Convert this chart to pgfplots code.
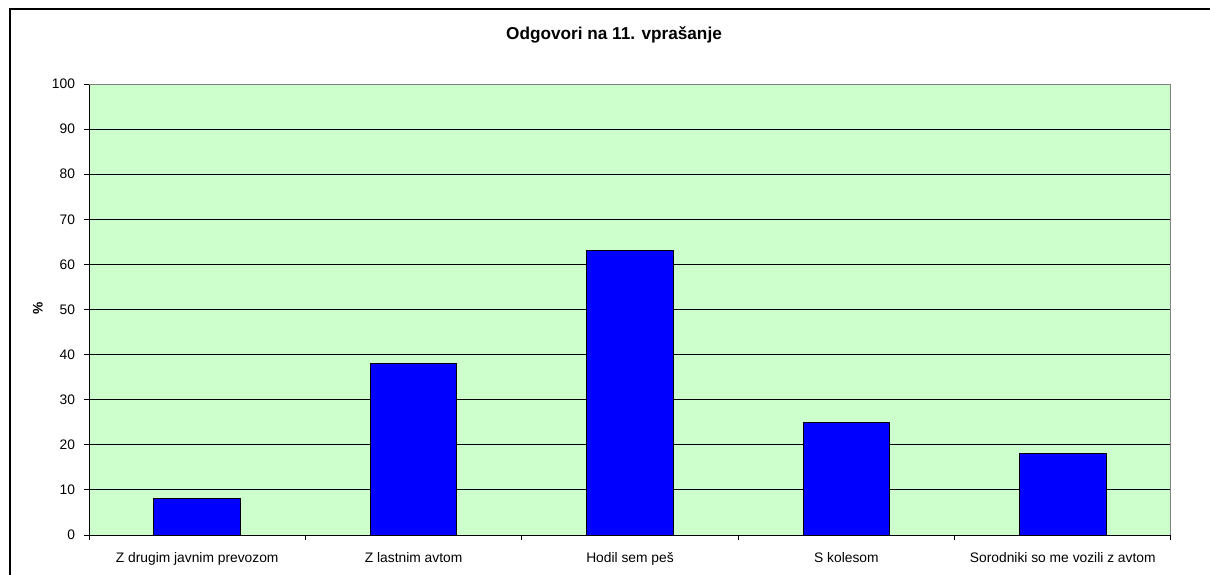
\documentclass[border=0pt]{standalone}
\usepackage{pgfplots}
\pgfplotsset{compat=1.18}
\usepackage{fontspec}
\setmainfont{Liberation Sans}
\definecolor{bgg}{RGB}{204,255,204}
\begin{document}
\begin{tikzpicture}[x=1pt,y=1pt]
\useasboundingbox (0,0) rectangle (605,287);
\draw[line width=1.2pt] (5,-10) -- (5,282.5) -- (620,282.5);
\node[font=\fontsize{8.6}{10}\selectfont\bfseries] at (307,269.5) {Odgovori na 11. vprašanje};
\node[font=\fontsize{6.9}{8}\selectfont\bfseries, rotate=90] at (19,133) {\%};
\begin{axis}[
  at={(44.5pt,19.5pt)}, anchor=south west,
  scale only axis, width=541pt, height=225.5pt,
  xmin=-0.5, xmax=4.5, ymin=0, ymax=100,
  axis background/.style={fill=bgg},
  axis lines=left, axis line style={-, black, line width=0.5pt},
  ytick={0,10,...,100},
  ymajorgrids, grid style={black, line width=0.5pt},
  tick align=outside,
  major tick length=2.5pt,
  minor tick length=2.5pt,
  xtick={0,1,2,3,4},
  xticklabels={Z drugim javnim prevozom, Z lastnim avtom, Hodil sem peš, S kolesom, Sorodniki so me vozili z avtom},
  x tick style={draw=none},
  minor xtick={-0.5,0.5,1.5,2.5,3.5,4.5},
  minor x tick style={draw=black, line width=0.5pt},
  y tick style={black, line width=0.5pt},
  /pgf/number format/assume math mode=true,
  ticklabel style={font=\fontsize{6.9}{8}\selectfont},
  xticklabel style={yshift=-2.5pt},
  yticklabel style={xshift=-1pt},
  ybar, bar width=43.3pt,
]
\addplot[fill={rgb,255:red,0;green,0;blue,255}, draw=black, line width=0.5pt] coordinates {(0,8) (1,38) (2,63) (3,25) (4,18)};
\draw[gray, line width=0.6pt] (rel axis cs:0,1) -- (rel axis cs:1,1) -- (rel axis cs:1,0);
\end{axis}
\end{tikzpicture}
\end{document}
